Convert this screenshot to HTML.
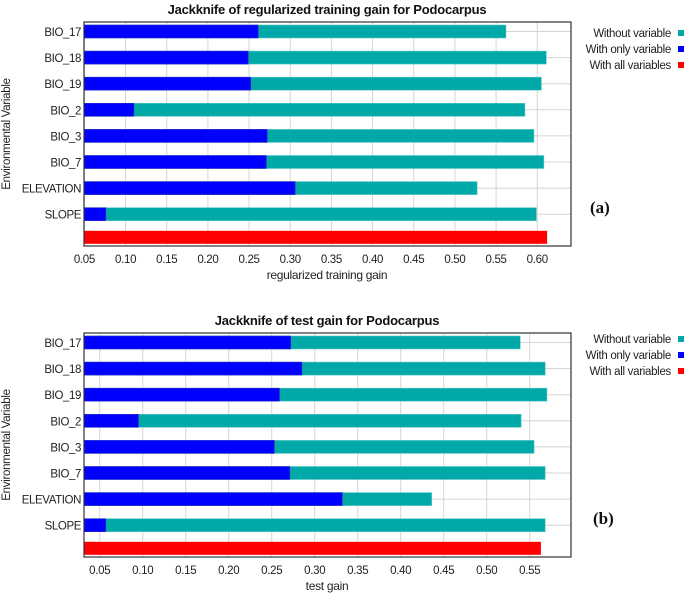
<!DOCTYPE html>
<html><head><meta charset="utf-8"><style>
body{margin:0;background:#fff;font-family:"Liberation Sans",Arial,sans-serif}
svg{display:block}
</style></head><body>
<svg id="c" width="685" height="598" xmlns="http://www.w3.org/2000/svg"></svg>
<script>
const categories=["BIO_17","BIO_18","BIO_19","BIO_2","BIO_3","BIO_7","ELEVATION","SLOPE"];
const trainWithout=[0.562,0.611,0.605,0.585,0.596,0.608,0.527,0.599];
const trainOnly=[0.261,0.249,0.252,0.110,0.272,0.271,0.306,0.076];
const trainAll=0.612;
const trainTicks=["0.05","0.10","0.15","0.20","0.25","0.30","0.35","0.40","0.45","0.50","0.55","0.60"];
const testWithout=[0.539,0.568,0.570,0.540,0.555,0.568,0.436,0.568];
const testOnly=[0.272,0.285,0.259,0.095,0.253,0.271,0.332,0.057];
const testAll=0.563;
const testTicks=["0.05","0.10","0.15","0.20","0.25","0.30","0.35","0.40","0.45","0.50","0.55"];
const NS="http://www.w3.org/2000/svg";
const svg=document.getElementById('c');
function mk(tag,attrs,parent,text){const e=document.createElementNS(NS,tag);for(const k in attrs)e.setAttribute(k,attrs[k]);if(text!==undefined)e.textContent=text;(parent||svg).appendChild(e);return e;}
function chart(o){
 const g=mk('g',{});
 
 
 const L=84,R=571,T=o.top,B=o.top+224;
 const x=v=>L+(v-o.min)/(o.max-o.min)*(R-L);
 const rowY=i=>T+9.5+i*26.1;
 const t=mk('text',{x:327,y:T-8,'text-anchor':'middle','font-size':13,'font-weight':'bold',fill:'#111','letter-spacing':'-0.2'},g,o.title);
 
 
 o.ticks.forEach(s=>{const v=parseFloat(s);const gl=mk('line',{x1:x(v),x2:x(v),y1:T,y2:B,stroke:'#d4d4d4','stroke-width':1},g);
  
  
  const tl=mk('text',{x:x(v),y:B+17,'text-anchor':'middle','font-size':11.5,fill:'#222','letter-spacing':'-0.3'},g,s);
  
  });
 categories.forEach((c,i)=>{const y=rowY(i);
  const hl=mk('line',{x1:L,x2:R,y1:y,y2:y,stroke:'#d4d4d4'},g);
  
  
  const w=mk('rect',{x:L,y:y-6.5,width:x(o.without[i])-L,height:13,fill:'#00a8a8',stroke:'#5cc8c8','stroke-width':0.6},g);
  
  
  const b=mk('rect',{x:L,y:y-6.5,width:x(o.only[i])-L,height:13,fill:'#0000ff',stroke:'#3030c0','stroke-width':0.6},g);
  
  
  const lb=mk('text',{x:L-3,y:y+4.5,'text-anchor':'end','font-size':11.5,fill:'#222','letter-spacing':'-0.4'},g,c);
  
  });
 const ry=rowY(8)-3;
 const ra=mk('rect',{x:L,y:ry-6.5,width:x(o.all)-L,height:13,fill:'#ff0000'},g);
 
 
 const fr=mk('rect',{x:L,y:T,width:R-L,height:B-T,fill:'none',stroke:'#333','stroke-width':1.2},g);
 
 
 const xt=mk('text',{x:327,y:B+33,'text-anchor':'middle','font-size':12,fill:'#222','letter-spacing':'-0.3'},g,o.xtitle);
 
 
 const yt=mk('text',{x:0,y:0,transform:`translate(10,${(T+B)/2}) rotate(-90)`,'text-anchor':'middle','font-size':11.5,fill:'#222','letter-spacing':'-0.3'},g,'Environmental Variable');
 
 
 [['Without variable','#00a8a8'],['With only variable','#0000ff'],['With all variables','#ff0000']].forEach((e,i)=>{
  const ly=o.legY+i*16;
  const le=mk('text',{x:671,y:ly+4,'text-anchor':'end','font-size':11.5,fill:'#222','letter-spacing':'-0.3'},g,e[0]);
  
  
  const sq=mk('rect',{x:678,y:ly-3,width:6,height:6,fill:e[1]},g);
  
  });
 const pl=mk('text',{x:o.labX,y:o.labY,'font-size':17,'font-weight':'bold','font-family':'Liberation Serif, serif',fill:'#111'},g,o.lab);
 
 
}
chart({name:'training-gain-chart',title:'Jackknife of regularized training gain for Podocarpus',top:22,min:0.0495,max:0.641,ticks:trainTicks,without:trainWithout,only:trainOnly,all:trainAll,xtitle:'regularized training gain',legY:33,lab:'(a)',labX:590,labY:213});
chart({name:'test-gain-chart',title:'Jackknife of test gain for Podocarpus',top:333,min:0.0317,max:0.598,ticks:testTicks,without:testWithout,only:testOnly,all:testAll,xtitle:'test gain',legY:339,lab:'(b)',labX:593,labY:524});
</script>
</body></html>
